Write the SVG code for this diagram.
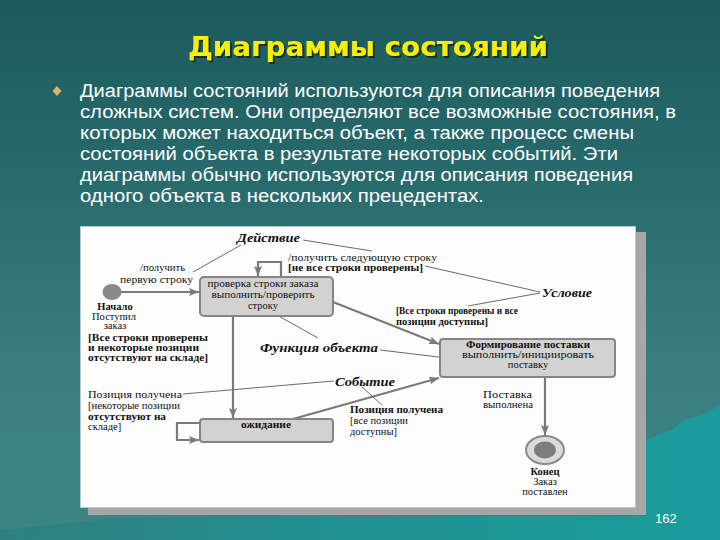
<svg xmlns="http://www.w3.org/2000/svg" width="720" height="540" viewBox="0 0 720 540">
<defs>
<linearGradient id="bg" x1="0" y1="0" x2="0" y2="1">
<stop offset="0" stop-color="#1b5a5c"/>
<stop offset="0.35" stop-color="#296c6d"/>
<stop offset="0.7" stop-color="#3a7f80"/>
<stop offset="1" stop-color="#3d8585"/>
</linearGradient>
<linearGradient id="sea" x1="0" y1="0" x2="1" y2="0">
<stop offset="0" stop-color="#2f7f80"/>
<stop offset="0.5" stop-color="#1f9292"/>
<stop offset="1" stop-color="#1a9c9c"/>
</linearGradient>
<filter id="sh" x="-5%" y="-20%" width="110%" height="140%">
<feDropShadow dx="2" dy="2" stdDeviation="0.6" flood-color="#0a2a2a" flood-opacity="0.9"/>
</filter>
<marker id="ah" viewBox="0 0 10 8" refX="10" refY="4" markerWidth="10" markerHeight="8" markerUnits="userSpaceOnUse" orient="auto">
<path d="M0,0 L10,4 L0,8 L2,4 z" fill="#7a7a7a"/>
</marker>
<style>
.title{font-family:"DejaVu Sans","Liberation Sans",sans-serif;font-weight:bold;font-size:26px;fill:#f4f000}
.body{font-family:"Liberation Sans","DejaVu Sans",sans-serif;font-size:18px;fill:#ffffff}
.t{font-family:"Liberation Serif","DejaVu Serif",serif;font-size:10.5px;fill:#111}
.tb{font-family:"Liberation Serif","DejaVu Serif",serif;font-size:10.5px;font-weight:bold;fill:#111}
.it{font-family:"Liberation Serif","DejaVu Serif",serif;font-size:13.5px;font-style:italic;font-weight:bold;fill:#111}
.state{fill:#d2d2d2;stroke:#858585;stroke-width:2}
.tr{fill:none;stroke:#7a7a7a;stroke-width:2.2}
.note{fill:none;stroke:#6a6a6a;stroke-width:1}
.pg{font-family:"Liberation Sans",sans-serif;font-size:13px;fill:#ffffff}
</style>
</defs>
<rect width="720" height="540" fill="url(#bg)"/>
<path d="M646,440 L660,434 L672,430 L684,420 L700,416 L712,410 L720,404 L720,540 L0,540 L0,530 L60,524 L120,518 L646,516 z" fill="url(#sea)"/>
<text class="title" x="368" y="56" text-anchor="middle" textLength="360" lengthAdjust="spacingAndGlyphs" filter="url(#sh)">Диаграммы состояний</text>
<path d="M57,86 L61.5,91 L57,96 L52.5,91 z" fill="#dab46a"/>
<g id="body">
<text class="body" x="80" y="97" textLength="580" lengthAdjust="spacingAndGlyphs">Диаграммы состояний используются для описания поведения</text>
<text class="body" x="80" y="118" textLength="596" lengthAdjust="spacingAndGlyphs">сложных систем. Они определяют все возможные состояния, в</text>
<text class="body" x="80" y="139" textLength="554" lengthAdjust="spacingAndGlyphs">которых может находиться объект, а также процесс смены</text>
<text class="body" x="80" y="160" textLength="538" lengthAdjust="spacingAndGlyphs">состояний объекта в результате некоторых событий. Эти</text>
<text class="body" x="80" y="181" textLength="553" lengthAdjust="spacingAndGlyphs">диаграммы обычно используются для описания поведения</text>
<text class="body" x="80" y="202" textLength="404" lengthAdjust="spacingAndGlyphs">одного объекта в нескольких прецедентах.</text>
</g>
<g id="panel">
<rect x="636" y="232" width="10" height="283" fill="#a7a7a9"/>
<rect x="88" y="508" width="558" height="7" fill="#a7a7a9"/>
<rect x="80.5" y="226.5" width="555" height="281" fill="#fdfdfd" stroke="#b8c8d0" stroke-width="1"/>
</g>
<g id="connectors">
<line class="tr" x1="119" y1="292" x2="199" y2="292" marker-end="url(#ah)"/>
<path class="tr" d="M281,277 L281,262 L258,262 L258,276" marker-end="url(#ah)"/>
<line class="tr" x1="333" y1="302" x2="439" y2="344" marker-end="url(#ah)"/>
<line class="tr" x1="233" y1="316" x2="233" y2="418" marker-end="url(#ah)"/>
<path class="tr" d="M200,423 L177,423 L177,440 L199,440" marker-end="url(#ah)"/>
<line class="tr" x1="293" y1="419" x2="439" y2="378" marker-end="url(#ah)"/>
<line class="tr" x1="545" y1="377" x2="545" y2="435" marker-end="url(#ah)"/>
<line class="note" x1="303" y1="240" x2="372" y2="251"/>
<line class="note" x1="241" y1="245" x2="193" y2="272"/>
<line class="note" x1="425" y1="266" x2="540" y2="292"/>
<line class="note" x1="540" y1="293" x2="468" y2="306"/>
<line class="note" x1="275" y1="314" x2="318" y2="338"/>
<line class="note" x1="380" y1="350" x2="447" y2="358"/>
<line class="note" x1="183" y1="394" x2="334" y2="381"/>
<line class="note" x1="362" y1="387" x2="382" y2="405"/>
</g>
<g id="start">
<ellipse cx="112" cy="292" rx="9.5" ry="8" fill="#8a8a8a"/>
<text class="tb" x="115" y="310" text-anchor="middle" font-size="9.5">Начало</text>
<text class="t" x="114" y="319.5" text-anchor="middle" font-size="9.5">Поступил</text>
<text class="t" x="115" y="329" text-anchor="middle" font-size="8">заказ</text>
</g>
<g id="labels">
<text class="it" x="237" y="242" textLength="63" lengthAdjust="spacingAndGlyphs">Действие</text>
<text class="t" x="140" y="271" textLength="45" lengthAdjust="spacingAndGlyphs">/получить</text>
<text class="t" x="120" y="283" textLength="73" lengthAdjust="spacingAndGlyphs">первую строку</text>
<text class="t" x="288" y="261" textLength="149" lengthAdjust="spacingAndGlyphs">/получить следующую строку</text>
<text class="tb" x="288" y="271" textLength="135" lengthAdjust="spacingAndGlyphs">[не все строки проверены]</text>
<text class="it" x="542" y="297" textLength="50" lengthAdjust="spacingAndGlyphs">Условие</text>
<text class="tb" x="396" y="314" textLength="122" lengthAdjust="spacingAndGlyphs">[Все строки проверены и все</text>
<text class="tb" x="396" y="325" textLength="92" lengthAdjust="spacingAndGlyphs">позиции доступны]</text>
<text class="tb" x="88" y="341" textLength="120" lengthAdjust="spacingAndGlyphs">[Все строки проверены</text>
<text class="tb" x="88" y="351" textLength="111" lengthAdjust="spacingAndGlyphs">и некоторые позиции</text>
<text class="tb" x="88" y="361" textLength="120" lengthAdjust="spacingAndGlyphs">отсутствуют на складе]</text>
<text class="it" x="260" y="352" textLength="118" lengthAdjust="spacingAndGlyphs">Функция объекта</text>
<text class="it" x="335" y="386" textLength="60" lengthAdjust="spacingAndGlyphs">Событие</text>
<text class="t" x="88" y="398" textLength="94" lengthAdjust="spacingAndGlyphs">Позиция получена</text>
<text class="t" x="88" y="409" textLength="92" lengthAdjust="spacingAndGlyphs">[некоторые позиции</text>
<text class="tb" x="88" y="420" textLength="78" lengthAdjust="spacingAndGlyphs">отсутствуют на</text>
<text class="t" x="88" y="430">складе]</text>
<text class="tb" x="350" y="413" textLength="93" lengthAdjust="spacingAndGlyphs">Позиция получена</text>
<text class="t" x="350" y="424">[все позиции</text>
<text class="t" x="350" y="435">доступны]</text>
<text class="t" x="483" y="398" textLength="49" lengthAdjust="spacingAndGlyphs">Поставка</text>
<text class="t" x="483" y="408" font-size="9" textLength="50" lengthAdjust="spacingAndGlyphs">выполнена</text>
</g>
<g id="state-check">
<rect class="state" x="200" y="277" width="133" height="39" rx="4"/>
<text class="t" x="263" y="287" text-anchor="middle" textLength="111" lengthAdjust="spacingAndGlyphs">проверка строки заказа</text>
<text class="t" x="263" y="298" text-anchor="middle" textLength="103" lengthAdjust="spacingAndGlyphs">выполнить/проверить</text>
<text class="t" x="263" y="309" text-anchor="middle">строку</text>
</g>
<g id="state-form">
<rect class="state" x="440" y="339" width="175" height="38" rx="3"/>
<text class="tb" x="528" y="348" text-anchor="middle" font-size="10" textLength="124" lengthAdjust="spacingAndGlyphs">Формирование поставки</text>
<text class="t" x="528" y="358" text-anchor="middle" font-size="10" textLength="132" lengthAdjust="spacingAndGlyphs">выполнить/инициировать</text>
<text class="t" x="528" y="368" text-anchor="middle" font-size="10">поставку</text>
</g>
<g id="state-wait">
<rect class="state" x="200" y="419" width="133" height="23" rx="3"/>
<text class="tb" x="266" y="428" text-anchor="middle" textLength="50" lengthAdjust="spacingAndGlyphs">ожидание</text>
</g>
<g id="end">
<ellipse cx="545" cy="450" rx="19" ry="14" fill="#dadada" stroke="#8a8a8a" stroke-width="2"/>
<ellipse cx="545" cy="450" rx="11" ry="8.5" fill="#7d7d7d"/>
<text class="tb" x="545" y="475" text-anchor="middle">Конец</text>
<text class="t" x="545" y="485" text-anchor="middle">Заказ</text>
<text class="t" x="545" y="495" text-anchor="middle">поставлен</text>
</g>
<text class="pg" x="655" y="523">162</text>
</svg>
